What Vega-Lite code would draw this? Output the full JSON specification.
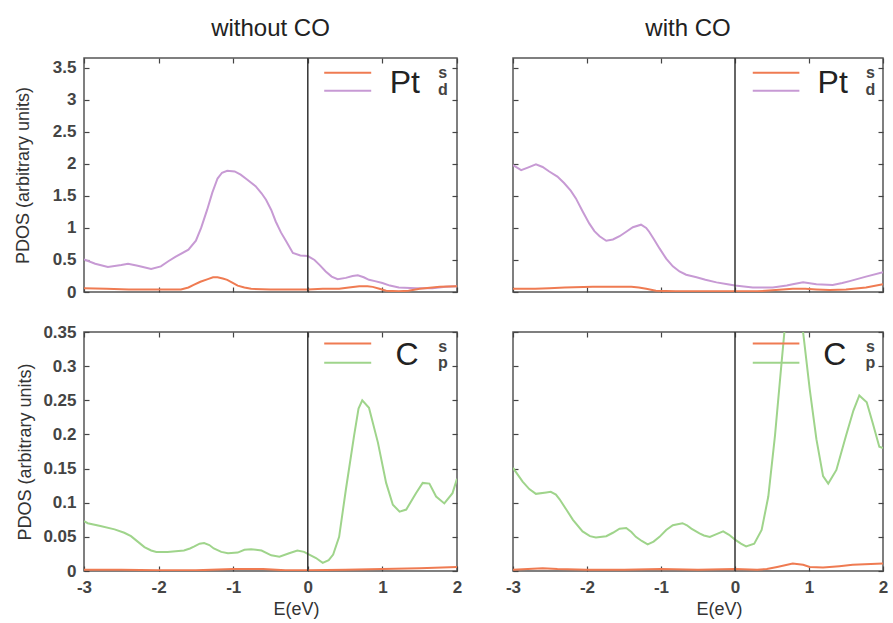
{
  "$schema": "https://vega.github.io/schema/vega-lite/v6.json",
  "padding": {"left": 13, "top": 16, "right": 5, "bottom": 3},
  "spacing": 21,
  "config": {
    "font": "Liberation Sans",
    "view": {"stroke": "#555", "strokeWidth": 1.5},
    "axis": {
      "domain": false, "grid": false, "tickColor": "#444", "tickSize": -5, "tickWidth": 1.2,
      "labelFontSize": 17, "labelFontWeight": "bold", "labelColor": "#444", "labelPadding": 13,
      "labelFlush": false, "labelOverlap": false,
      "titleFontWeight": "normal", "titleColor": "#333", "titleFontSize": 18
    },
    "axisX": {"labelPadding": 13}
  },
  "datasets": {
    "pt_without": [
      {"orb": "d", "E": -3.0, "pdos": 0.51}, {"orb": "d", "E": -2.85, "pdos": 0.44}, {"orb": "d", "E": -2.68, "pdos": 0.39},
      {"orb": "d", "E": -2.5, "pdos": 0.42}, {"orb": "d", "E": -2.41, "pdos": 0.44}, {"orb": "d", "E": -2.28, "pdos": 0.41},
      {"orb": "d", "E": -2.1, "pdos": 0.36}, {"orb": "d", "E": -1.97, "pdos": 0.4}, {"orb": "d", "E": -1.87, "pdos": 0.48},
      {"orb": "d", "E": -1.77, "pdos": 0.55}, {"orb": "d", "E": -1.6, "pdos": 0.66}, {"orb": "d", "E": -1.5, "pdos": 0.8},
      {"orb": "d", "E": -1.43, "pdos": 1.0}, {"orb": "d", "E": -1.35, "pdos": 1.28}, {"orb": "d", "E": -1.28, "pdos": 1.55},
      {"orb": "d", "E": -1.21, "pdos": 1.77}, {"orb": "d", "E": -1.15, "pdos": 1.86}, {"orb": "d", "E": -1.08, "pdos": 1.89},
      {"orb": "d", "E": -0.98, "pdos": 1.88}, {"orb": "d", "E": -0.9, "pdos": 1.83}, {"orb": "d", "E": -0.81, "pdos": 1.75},
      {"orb": "d", "E": -0.7, "pdos": 1.65}, {"orb": "d", "E": -0.62, "pdos": 1.54}, {"orb": "d", "E": -0.56, "pdos": 1.44},
      {"orb": "d", "E": -0.49, "pdos": 1.28}, {"orb": "d", "E": -0.43, "pdos": 1.1}, {"orb": "d", "E": -0.36, "pdos": 0.93},
      {"orb": "d", "E": -0.29, "pdos": 0.79}, {"orb": "d", "E": -0.2, "pdos": 0.61}, {"orb": "d", "E": -0.1, "pdos": 0.57},
      {"orb": "d", "E": 0.0, "pdos": 0.56}, {"orb": "d", "E": 0.09, "pdos": 0.5}, {"orb": "d", "E": 0.16, "pdos": 0.42},
      {"orb": "d", "E": 0.24, "pdos": 0.32}, {"orb": "d", "E": 0.32, "pdos": 0.24}, {"orb": "d", "E": 0.4, "pdos": 0.2},
      {"orb": "d", "E": 0.51, "pdos": 0.22}, {"orb": "d", "E": 0.6, "pdos": 0.25}, {"orb": "d", "E": 0.67, "pdos": 0.26},
      {"orb": "d", "E": 0.75, "pdos": 0.23}, {"orb": "d", "E": 0.82, "pdos": 0.19}, {"orb": "d", "E": 0.9, "pdos": 0.17},
      {"orb": "d", "E": 1.0, "pdos": 0.14}, {"orb": "d", "E": 1.1, "pdos": 0.1}, {"orb": "d", "E": 1.22, "pdos": 0.07},
      {"orb": "d", "E": 1.45, "pdos": 0.06}, {"orb": "d", "E": 1.67, "pdos": 0.06}, {"orb": "d", "E": 1.85, "pdos": 0.08},
      {"orb": "d", "E": 2.0, "pdos": 0.09},
      {"orb": "s", "E": -3.0, "pdos": 0.06}, {"orb": "s", "E": -2.7, "pdos": 0.05}, {"orb": "s", "E": -2.4, "pdos": 0.04},
      {"orb": "s", "E": -2.0, "pdos": 0.04}, {"orb": "s", "E": -1.7, "pdos": 0.04}, {"orb": "s", "E": -1.6, "pdos": 0.07},
      {"orb": "s", "E": -1.53, "pdos": 0.11}, {"orb": "s", "E": -1.44, "pdos": 0.16}, {"orb": "s", "E": -1.34, "pdos": 0.2},
      {"orb": "s", "E": -1.27, "pdos": 0.23}, {"orb": "s", "E": -1.21, "pdos": 0.23}, {"orb": "s", "E": -1.14, "pdos": 0.21},
      {"orb": "s", "E": -1.08, "pdos": 0.19}, {"orb": "s", "E": -1.0, "pdos": 0.14}, {"orb": "s", "E": -0.94, "pdos": 0.1},
      {"orb": "s", "E": -0.85, "pdos": 0.07}, {"orb": "s", "E": -0.76, "pdos": 0.05}, {"orb": "s", "E": -0.5, "pdos": 0.04},
      {"orb": "s", "E": 0.0, "pdos": 0.04}, {"orb": "s", "E": 0.2, "pdos": 0.05}, {"orb": "s", "E": 0.42, "pdos": 0.05},
      {"orb": "s", "E": 0.55, "pdos": 0.07}, {"orb": "s", "E": 0.69, "pdos": 0.09}, {"orb": "s", "E": 0.8, "pdos": 0.09},
      {"orb": "s", "E": 0.87, "pdos": 0.08}, {"orb": "s", "E": 0.96, "pdos": 0.05}, {"orb": "s", "E": 1.05, "pdos": 0.02},
      {"orb": "s", "E": 1.22, "pdos": 0.01}, {"orb": "s", "E": 1.35, "pdos": 0.02}, {"orb": "s", "E": 1.5, "pdos": 0.05},
      {"orb": "s", "E": 1.77, "pdos": 0.08}, {"orb": "s", "E": 2.0, "pdos": 0.09}
    ],
    "pt_with": [
      {"orb": "d", "E": -3.0, "pdos": 1.98}, {"orb": "d", "E": -2.89, "pdos": 1.9}, {"orb": "d", "E": -2.8, "pdos": 1.94},
      {"orb": "d", "E": -2.69, "pdos": 1.99}, {"orb": "d", "E": -2.6, "pdos": 1.95}, {"orb": "d", "E": -2.51, "pdos": 1.88},
      {"orb": "d", "E": -2.4, "pdos": 1.8}, {"orb": "d", "E": -2.31, "pdos": 1.7}, {"orb": "d", "E": -2.22, "pdos": 1.58},
      {"orb": "d", "E": -2.15, "pdos": 1.46}, {"orb": "d", "E": -2.06, "pdos": 1.26}, {"orb": "d", "E": -1.97, "pdos": 1.07},
      {"orb": "d", "E": -1.9, "pdos": 0.95}, {"orb": "d", "E": -1.83, "pdos": 0.87}, {"orb": "d", "E": -1.74, "pdos": 0.8},
      {"orb": "d", "E": -1.65, "pdos": 0.82}, {"orb": "d", "E": -1.56, "pdos": 0.87}, {"orb": "d", "E": -1.47, "pdos": 0.94},
      {"orb": "d", "E": -1.38, "pdos": 1.01}, {"orb": "d", "E": -1.27, "pdos": 1.05}, {"orb": "d", "E": -1.2, "pdos": 1.0},
      {"orb": "d", "E": -1.16, "pdos": 0.94}, {"orb": "d", "E": -1.1, "pdos": 0.83}, {"orb": "d", "E": -1.02, "pdos": 0.68},
      {"orb": "d", "E": -0.93, "pdos": 0.52}, {"orb": "d", "E": -0.84, "pdos": 0.4}, {"orb": "d", "E": -0.75, "pdos": 0.32},
      {"orb": "d", "E": -0.66, "pdos": 0.27}, {"orb": "d", "E": -0.52, "pdos": 0.23}, {"orb": "d", "E": -0.4, "pdos": 0.19},
      {"orb": "d", "E": -0.25, "pdos": 0.15}, {"orb": "d", "E": -0.1, "pdos": 0.12}, {"orb": "d", "E": 0.0, "pdos": 0.1},
      {"orb": "d", "E": 0.24, "pdos": 0.07}, {"orb": "d", "E": 0.51, "pdos": 0.07}, {"orb": "d", "E": 0.7, "pdos": 0.1},
      {"orb": "d", "E": 0.78, "pdos": 0.12}, {"orb": "d", "E": 0.92, "pdos": 0.15}, {"orb": "d", "E": 1.1, "pdos": 0.12},
      {"orb": "d", "E": 1.32, "pdos": 0.11}, {"orb": "d", "E": 1.45, "pdos": 0.14}, {"orb": "d", "E": 1.55, "pdos": 0.17},
      {"orb": "d", "E": 1.77, "pdos": 0.24}, {"orb": "d", "E": 2.0, "pdos": 0.31},
      {"orb": "s", "E": -3.0, "pdos": 0.05}, {"orb": "s", "E": -2.7, "pdos": 0.05}, {"orb": "s", "E": -2.51, "pdos": 0.06},
      {"orb": "s", "E": -2.3, "pdos": 0.07}, {"orb": "s", "E": -1.92, "pdos": 0.08}, {"orb": "s", "E": -1.52, "pdos": 0.08},
      {"orb": "s", "E": -1.4, "pdos": 0.08}, {"orb": "s", "E": -1.3, "pdos": 0.07}, {"orb": "s", "E": -1.2, "pdos": 0.05},
      {"orb": "s", "E": -1.07, "pdos": 0.02}, {"orb": "s", "E": -0.8, "pdos": 0.01}, {"orb": "s", "E": 0.0, "pdos": 0.01},
      {"orb": "s", "E": 0.3, "pdos": 0.01}, {"orb": "s", "E": 0.55, "pdos": 0.03}, {"orb": "s", "E": 0.78, "pdos": 0.05},
      {"orb": "s", "E": 0.95, "pdos": 0.05}, {"orb": "s", "E": 1.1, "pdos": 0.04}, {"orb": "s", "E": 1.28, "pdos": 0.03},
      {"orb": "s", "E": 1.5, "pdos": 0.04}, {"orb": "s", "E": 1.77, "pdos": 0.07}, {"orb": "s", "E": 2.0, "pdos": 0.12}
    ],
    "c_without": [
      {"orb": "p", "E": -3.0, "pdos": 0.073}, {"orb": "p", "E": -2.95, "pdos": 0.07}, {"orb": "p", "E": -2.78, "pdos": 0.066},
      {"orb": "p", "E": -2.59, "pdos": 0.061}, {"orb": "p", "E": -2.46, "pdos": 0.056}, {"orb": "p", "E": -2.37, "pdos": 0.051},
      {"orb": "p", "E": -2.28, "pdos": 0.043}, {"orb": "p", "E": -2.19, "pdos": 0.035}, {"orb": "p", "E": -2.1, "pdos": 0.03},
      {"orb": "p", "E": -2.03, "pdos": 0.028}, {"orb": "p", "E": -1.88, "pdos": 0.028}, {"orb": "p", "E": -1.66, "pdos": 0.03},
      {"orb": "p", "E": -1.58, "pdos": 0.033}, {"orb": "p", "E": -1.52, "pdos": 0.036}, {"orb": "p", "E": -1.45, "pdos": 0.04},
      {"orb": "p", "E": -1.39, "pdos": 0.041}, {"orb": "p", "E": -1.32, "pdos": 0.038}, {"orb": "p", "E": -1.26, "pdos": 0.033},
      {"orb": "p", "E": -1.16, "pdos": 0.028}, {"orb": "p", "E": -1.07, "pdos": 0.026}, {"orb": "p", "E": -0.94, "pdos": 0.027},
      {"orb": "p", "E": -0.85, "pdos": 0.031}, {"orb": "p", "E": -0.76, "pdos": 0.032}, {"orb": "p", "E": -0.62, "pdos": 0.03},
      {"orb": "p", "E": -0.49, "pdos": 0.023}, {"orb": "p", "E": -0.38, "pdos": 0.021}, {"orb": "p", "E": -0.25, "pdos": 0.026},
      {"orb": "p", "E": -0.14, "pdos": 0.03}, {"orb": "p", "E": -0.05, "pdos": 0.028}, {"orb": "p", "E": 0.0, "pdos": 0.025},
      {"orb": "p", "E": 0.11, "pdos": 0.019}, {"orb": "p", "E": 0.2, "pdos": 0.012}, {"orb": "p", "E": 0.28, "pdos": 0.016},
      {"orb": "p", "E": 0.34, "pdos": 0.024}, {"orb": "p", "E": 0.42, "pdos": 0.05}, {"orb": "p", "E": 0.51, "pdos": 0.119},
      {"orb": "p", "E": 0.62, "pdos": 0.198}, {"orb": "p", "E": 0.68, "pdos": 0.238}, {"orb": "p", "E": 0.73, "pdos": 0.25},
      {"orb": "p", "E": 0.82, "pdos": 0.239}, {"orb": "p", "E": 0.94, "pdos": 0.188}, {"orb": "p", "E": 1.05, "pdos": 0.129},
      {"orb": "p", "E": 1.14, "pdos": 0.097}, {"orb": "p", "E": 1.23, "pdos": 0.087}, {"orb": "p", "E": 1.32, "pdos": 0.09},
      {"orb": "p", "E": 1.45, "pdos": 0.114}, {"orb": "p", "E": 1.54, "pdos": 0.129}, {"orb": "p", "E": 1.63, "pdos": 0.128},
      {"orb": "p", "E": 1.72, "pdos": 0.109}, {"orb": "p", "E": 1.83, "pdos": 0.099}, {"orb": "p", "E": 1.94, "pdos": 0.114},
      {"orb": "p", "E": 2.0, "pdos": 0.135},
      {"orb": "s", "E": -3.0, "pdos": 0.002}, {"orb": "s", "E": -2.5, "pdos": 0.002}, {"orb": "s", "E": -2.0, "pdos": 0.001},
      {"orb": "s", "E": -1.5, "pdos": 0.001}, {"orb": "s", "E": -1.0, "pdos": 0.003}, {"orb": "s", "E": -0.6, "pdos": 0.003},
      {"orb": "s", "E": -0.3, "pdos": 0.001}, {"orb": "s", "E": 0.0, "pdos": 0.001}, {"orb": "s", "E": 0.5, "pdos": 0.002},
      {"orb": "s", "E": 1.0, "pdos": 0.003}, {"orb": "s", "E": 1.5, "pdos": 0.004}, {"orb": "s", "E": 2.0, "pdos": 0.006}
    ],
    "c_with": [
      {"orb": "p", "E": -3.0, "pdos": 0.151}, {"orb": "p", "E": -2.87, "pdos": 0.131}, {"orb": "p", "E": -2.78, "pdos": 0.12},
      {"orb": "p", "E": -2.69, "pdos": 0.113}, {"orb": "p", "E": -2.55, "pdos": 0.115}, {"orb": "p", "E": -2.49, "pdos": 0.116},
      {"orb": "p", "E": -2.42, "pdos": 0.112}, {"orb": "p", "E": -2.37, "pdos": 0.105}, {"orb": "p", "E": -2.28, "pdos": 0.09},
      {"orb": "p", "E": -2.19, "pdos": 0.075}, {"orb": "p", "E": -2.06, "pdos": 0.058}, {"orb": "p", "E": -1.96, "pdos": 0.051},
      {"orb": "p", "E": -1.88, "pdos": 0.049}, {"orb": "p", "E": -1.74, "pdos": 0.051}, {"orb": "p", "E": -1.65, "pdos": 0.056},
      {"orb": "p", "E": -1.56, "pdos": 0.062}, {"orb": "p", "E": -1.47, "pdos": 0.063}, {"orb": "p", "E": -1.4, "pdos": 0.057},
      {"orb": "p", "E": -1.34, "pdos": 0.05}, {"orb": "p", "E": -1.26, "pdos": 0.044}, {"orb": "p", "E": -1.18, "pdos": 0.039},
      {"orb": "p", "E": -1.1, "pdos": 0.043}, {"orb": "p", "E": -1.02, "pdos": 0.05}, {"orb": "p", "E": -0.93, "pdos": 0.06},
      {"orb": "p", "E": -0.84, "pdos": 0.067}, {"orb": "p", "E": -0.71, "pdos": 0.07}, {"orb": "p", "E": -0.65, "pdos": 0.067},
      {"orb": "p", "E": -0.59, "pdos": 0.062}, {"orb": "p", "E": -0.48, "pdos": 0.055}, {"orb": "p", "E": -0.42, "pdos": 0.052},
      {"orb": "p", "E": -0.34, "pdos": 0.05}, {"orb": "p", "E": -0.25, "pdos": 0.054}, {"orb": "p", "E": -0.16, "pdos": 0.058},
      {"orb": "p", "E": -0.08, "pdos": 0.053}, {"orb": "p", "E": 0.0, "pdos": 0.046}, {"orb": "p", "E": 0.08, "pdos": 0.04},
      {"orb": "p", "E": 0.15, "pdos": 0.036}, {"orb": "p", "E": 0.26, "pdos": 0.04}, {"orb": "p", "E": 0.36, "pdos": 0.06},
      {"orb": "p", "E": 0.45, "pdos": 0.109}, {"orb": "p", "E": 0.54, "pdos": 0.198}, {"orb": "p", "E": 0.63, "pdos": 0.306},
      {"orb": "p", "E": 0.71, "pdos": 0.4}, {"orb": "p", "E": 0.79, "pdos": 0.44}, {"orb": "p", "E": 0.86, "pdos": 0.41},
      {"orb": "p", "E": 0.92, "pdos": 0.35}, {"orb": "p", "E": 1.01, "pdos": 0.266}, {"orb": "p", "E": 1.1, "pdos": 0.193},
      {"orb": "p", "E": 1.19, "pdos": 0.139}, {"orb": "p", "E": 1.26, "pdos": 0.128}, {"orb": "p", "E": 1.37, "pdos": 0.148},
      {"orb": "p", "E": 1.5, "pdos": 0.198}, {"orb": "p", "E": 1.6, "pdos": 0.235}, {"orb": "p", "E": 1.68, "pdos": 0.257},
      {"orb": "p", "E": 1.78, "pdos": 0.247}, {"orb": "p", "E": 1.86, "pdos": 0.217}, {"orb": "p", "E": 1.95, "pdos": 0.182},
      {"orb": "p", "E": 2.0, "pdos": 0.18},
      {"orb": "s", "E": -3.0, "pdos": 0.002}, {"orb": "s", "E": -2.6, "pdos": 0.004}, {"orb": "s", "E": -2.4, "pdos": 0.003},
      {"orb": "s", "E": -2.0, "pdos": 0.002}, {"orb": "s", "E": -1.5, "pdos": 0.002}, {"orb": "s", "E": -1.0, "pdos": 0.003},
      {"orb": "s", "E": -0.5, "pdos": 0.002}, {"orb": "s", "E": 0.0, "pdos": 0.003}, {"orb": "s", "E": 0.3, "pdos": 0.002},
      {"orb": "s", "E": 0.43, "pdos": 0.003}, {"orb": "s", "E": 0.57, "pdos": 0.006}, {"orb": "s", "E": 0.78, "pdos": 0.011},
      {"orb": "s", "E": 0.92, "pdos": 0.009}, {"orb": "s", "E": 1.01, "pdos": 0.006}, {"orb": "s", "E": 1.19, "pdos": 0.005},
      {"orb": "s", "E": 1.41, "pdos": 0.007}, {"orb": "s", "E": 1.59, "pdos": 0.009}, {"orb": "s", "E": 2.0, "pdos": 0.011}
    ]
  },
  "vconcat": [
    {
      "bounds": "flush",
      "spacing": 56,
      "hconcat": [
        {
          "width": 373, "height": 234,
          "title": {"text": "without CO", "fontSize": 24, "fontWeight": "normal", "color": "#222", "offset": 16},
          "layer": [
            {
              "data": {"name": "pt_without"},
              "mark": {"type": "line", "strokeWidth": 2, "clip": true},
              "encoding": {
                "x": {"field": "E", "type": "quantitative", "scale": {"domain": [-3, 2], "nice": false, "zero": false},
                      "axis": {"values": [-3, -2, -1, 0, 1, 2], "labels": false, "title": null}},
                "y": {"field": "pdos", "type": "quantitative", "scale": {"domain": [0, 3.65], "nice": false},
                      "axis": {"values": [0, 0.5, 1, 1.5, 2, 2.5, 3, 3.5], "format": "~g", "title": "PDOS (arbitrary units)", "titlePadding": 20}},
                "color": {"field": "orb", "type": "nominal", "scale": {"domain": ["s", "d", "p"], "range": ["#ef7b52", "#c79ad4", "#9fd48b"]}, "legend": null}
              }
            },
            {
              "data": {"values": [{}]},
              "mark": {"type": "rule", "color": "#333", "strokeWidth": 1.5},
              "encoding": {"x": {"datum": 0, "type": "quantitative", "axis": {"orient": "top", "values": [-3, -2, -1, 0, 1, 2], "labels": false, "title": null}}}
            },
            {
              "data": {"values": [{}]},
              "mark": {"type": "rule", "color": "#ef7b52", "strokeWidth": 2},
              "encoding": {"x": {"datum": 0.22, "axis": null}, "x2": {"datum": 0.85}, "y": {"datum": 3.42, "axis": null}}
            },
            {
              "data": {"values": [{}]},
              "mark": {"type": "rule", "color": "#c79ad4", "strokeWidth": 2},
              "encoding": {"x": {"datum": 0.22, "axis": null}, "x2": {"datum": 0.85}, "y": {"datum": 3.14, "axis": null}}
            },
            {
              "data": {"values": [{}]},
              "mark": {"type": "text", "fontSize": 32, "color": "#222", "align": "center", "baseline": "alphabetic"},
              "encoding": {"x": {"datum": 1.3, "axis": null},
                           "y": {"datum": 3.1, "axis": {"orient": "right", "values": [0, 0.5, 1, 1.5, 2, 2.5, 3, 3.5], "labels": false, "title": null}},
                           "text": {"value": "Pt"}}
            },
            {
              "data": {"values": [{}]},
              "mark": {"type": "text", "fontSize": 16, "fontWeight": "bold", "color": "#444", "align": "center", "baseline": "alphabetic"},
              "encoding": {"x": {"datum": 1.81, "axis": null}, "y": {"datum": 3.34, "axis": null}, "text": {"value": "s"}}
            },
            {
              "data": {"values": [{}]},
              "mark": {"type": "text", "fontSize": 16, "fontWeight": "bold", "color": "#444", "align": "center", "baseline": "alphabetic"},
              "encoding": {"x": {"datum": 1.81, "axis": null}, "y": {"datum": 3.07, "axis": null}, "text": {"value": "d"}}
            }
          ],
          "resolve": {"axis": {"x": "independent", "y": "independent"}}
        },
        {
          "width": 370, "height": 234,
          "title": {"text": "with CO", "fontSize": 24, "fontWeight": "normal", "color": "#222", "offset": 16, "dx": -10},
          "layer": [
            {
              "data": {"name": "pt_with"},
              "mark": {"type": "line", "strokeWidth": 2, "clip": true},
              "encoding": {
                "x": {"field": "E", "type": "quantitative", "scale": {"domain": [-3, 2], "nice": false, "zero": false},
                      "axis": {"values": [-3, -2, -1, 0, 1, 2], "labels": false, "title": null}},
                "y": {"field": "pdos", "type": "quantitative", "scale": {"domain": [0, 3.65], "nice": false},
                      "axis": {"values": [0, 0.5, 1, 1.5, 2, 2.5, 3, 3.5], "labels": false, "title": null}},
                "color": {"field": "orb", "type": "nominal", "scale": {"domain": ["s", "d", "p"], "range": ["#ef7b52", "#c79ad4", "#9fd48b"]}, "legend": null}
              }
            },
            {
              "data": {"values": [{}]},
              "mark": {"type": "rule", "color": "#333", "strokeWidth": 1.5},
              "encoding": {"x": {"datum": 0, "type": "quantitative", "axis": {"orient": "top", "values": [-3, -2, -1, 0, 1, 2], "labels": false, "title": null}}}
            },
            {
              "data": {"values": [{}]},
              "mark": {"type": "rule", "color": "#ef7b52", "strokeWidth": 2},
              "encoding": {"x": {"datum": 0.24, "axis": null}, "x2": {"datum": 0.87}, "y": {"datum": 3.42, "axis": null}}
            },
            {
              "data": {"values": [{}]},
              "mark": {"type": "rule", "color": "#c79ad4", "strokeWidth": 2},
              "encoding": {"x": {"datum": 0.24, "axis": null}, "x2": {"datum": 0.87}, "y": {"datum": 3.14, "axis": null}}
            },
            {
              "data": {"values": [{}]},
              "mark": {"type": "text", "fontSize": 32, "color": "#222", "align": "center", "baseline": "alphabetic"},
              "encoding": {"x": {"datum": 1.32, "axis": null},
                           "y": {"datum": 3.1, "axis": {"orient": "right", "values": [0, 0.5, 1, 1.5, 2, 2.5, 3, 3.5], "labels": false, "title": null}},
                           "text": {"value": "Pt"}}
            },
            {
              "data": {"values": [{}]},
              "mark": {"type": "text", "fontSize": 16, "fontWeight": "bold", "color": "#444", "align": "center", "baseline": "alphabetic"},
              "encoding": {"x": {"datum": 1.83, "axis": null}, "y": {"datum": 3.34, "axis": null}, "text": {"value": "s"}}
            },
            {
              "data": {"values": [{}]},
              "mark": {"type": "text", "fontSize": 16, "fontWeight": "bold", "color": "#444", "align": "center", "baseline": "alphabetic"},
              "encoding": {"x": {"datum": 1.83, "axis": null}, "y": {"datum": 3.07, "axis": null}, "text": {"value": "d"}}
            }
          ],
          "resolve": {"axis": {"x": "independent", "y": "independent"}}
        }
      ]
    },
    {
      "bounds": "flush",
      "spacing": 56,
      "hconcat": [
        {
          "width": 373, "height": 239,
          "layer": [
            {
              "data": {"name": "c_without"},
              "mark": {"type": "line", "strokeWidth": 2, "clip": true},
              "encoding": {
                "x": {"field": "E", "type": "quantitative", "scale": {"domain": [-3, 2], "nice": false, "zero": false},
                      "axis": {"values": [-3, -2, -1, 0, 1, 2], "labelExpr": "'' + datum.value", "title": "E(eV)", "titleFontSize": 18, "titlePadding": 5, "titleX": 212}},
                "y": {"field": "pdos", "type": "quantitative", "scale": {"domain": [0, 0.35], "nice": false},
                      "axis": {"values": [0, 0.05, 0.1, 0.15, 0.2, 0.25, 0.3, 0.35], "format": "~g", "title": "PDOS (arbitrary units)", "titlePadding": 8}},
                "color": {"field": "orb", "type": "nominal", "scale": {"domain": ["s", "d", "p"], "range": ["#ef7b52", "#c79ad4", "#9fd48b"]}, "legend": null}
              }
            },
            {
              "data": {"values": [{}]},
              "mark": {"type": "rule", "color": "#333", "strokeWidth": 1.5},
              "encoding": {"x": {"datum": 0, "type": "quantitative", "axis": {"orient": "top", "values": [-3, -2, -1, 0, 1, 2], "labels": false, "title": null}}}
            },
            {
              "data": {"values": [{}]},
              "mark": {"type": "rule", "color": "#ef7b52", "strokeWidth": 2},
              "encoding": {"x": {"datum": 0.22, "axis": null}, "x2": {"datum": 0.85}, "y": {"datum": 0.333, "axis": null}}
            },
            {
              "data": {"values": [{}]},
              "mark": {"type": "rule", "color": "#9fd48b", "strokeWidth": 2},
              "encoding": {"x": {"datum": 0.22, "axis": null}, "x2": {"datum": 0.85}, "y": {"datum": 0.305, "axis": null}}
            },
            {
              "data": {"values": [{}]},
              "mark": {"type": "text", "fontSize": 32, "color": "#222", "align": "center", "baseline": "alphabetic"},
              "encoding": {"x": {"datum": 1.33, "axis": null},
                           "y": {"datum": 0.301, "axis": {"orient": "right", "values": [0, 0.05, 0.1, 0.15, 0.2, 0.25, 0.3, 0.35], "labels": false, "title": null}},
                           "text": {"value": "C"}}
            },
            {
              "data": {"values": [{}]},
              "mark": {"type": "text", "fontSize": 16, "fontWeight": "bold", "color": "#444", "align": "center", "baseline": "alphabetic"},
              "encoding": {"x": {"datum": 1.81, "axis": null}, "y": {"datum": 0.321, "axis": null}, "text": {"value": "s"}}
            },
            {
              "data": {"values": [{}]},
              "mark": {"type": "text", "fontSize": 16, "fontWeight": "bold", "color": "#444", "align": "center", "baseline": "alphabetic"},
              "encoding": {"x": {"datum": 1.81, "axis": null}, "y": {"datum": 0.297, "axis": null}, "text": {"value": "p"}}
            }
          ],
          "resolve": {"axis": {"x": "independent", "y": "independent"}}
        },
        {
          "width": 370, "height": 239,
          "layer": [
            {
              "data": {"name": "c_with"},
              "mark": {"type": "line", "strokeWidth": 2, "clip": true},
              "encoding": {
                "x": {"field": "E", "type": "quantitative", "scale": {"domain": [-3, 2], "nice": false, "zero": false},
                      "axis": {"values": [-3, -2, -1, 0, 1, 2], "labelExpr": "'' + datum.value", "title": "E(eV)", "titleFontSize": 18, "titlePadding": 5, "titleX": 206}},
                "y": {"field": "pdos", "type": "quantitative", "scale": {"domain": [0, 0.35], "nice": false},
                      "axis": {"values": [0, 0.05, 0.1, 0.15, 0.2, 0.25, 0.3, 0.35], "labels": false, "title": null}},
                "color": {"field": "orb", "type": "nominal", "scale": {"domain": ["s", "d", "p"], "range": ["#ef7b52", "#c79ad4", "#9fd48b"]}, "legend": null}
              }
            },
            {
              "data": {"values": [{}]},
              "mark": {"type": "rule", "color": "#333", "strokeWidth": 1.5},
              "encoding": {"x": {"datum": 0, "type": "quantitative", "axis": {"orient": "top", "values": [-3, -2, -1, 0, 1, 2], "labels": false, "title": null}}}
            },
            {
              "data": {"values": [{}]},
              "mark": {"type": "rule", "color": "#ef7b52", "strokeWidth": 2},
              "encoding": {"x": {"datum": 0.24, "axis": null}, "x2": {"datum": 0.87}, "y": {"datum": 0.333, "axis": null}}
            },
            {
              "data": {"values": [{}]},
              "mark": {"type": "rule", "color": "#9fd48b", "strokeWidth": 2},
              "encoding": {"x": {"datum": 0.24, "axis": null}, "x2": {"datum": 0.87}, "y": {"datum": 0.305, "axis": null}}
            },
            {
              "data": {"values": [{}]},
              "mark": {"type": "text", "fontSize": 32, "color": "#222", "align": "center", "baseline": "alphabetic"},
              "encoding": {"x": {"datum": 1.35, "axis": null},
                           "y": {"datum": 0.301, "axis": {"orient": "right", "values": [0, 0.05, 0.1, 0.15, 0.2, 0.25, 0.3, 0.35], "labels": false, "title": null}},
                           "text": {"value": "C"}}
            },
            {
              "data": {"values": [{}]},
              "mark": {"type": "text", "fontSize": 16, "fontWeight": "bold", "color": "#444", "align": "center", "baseline": "alphabetic"},
              "encoding": {"x": {"datum": 1.83, "axis": null}, "y": {"datum": 0.321, "axis": null}, "text": {"value": "s"}}
            },
            {
              "data": {"values": [{}]},
              "mark": {"type": "text", "fontSize": 16, "fontWeight": "bold", "color": "#444", "align": "center", "baseline": "alphabetic"},
              "encoding": {"x": {"datum": 1.83, "axis": null}, "y": {"datum": 0.297, "axis": null}, "text": {"value": "p"}}
            }
          ],
          "resolve": {"axis": {"x": "independent", "y": "independent"}}
        }
      ]
    }
  ]
}
